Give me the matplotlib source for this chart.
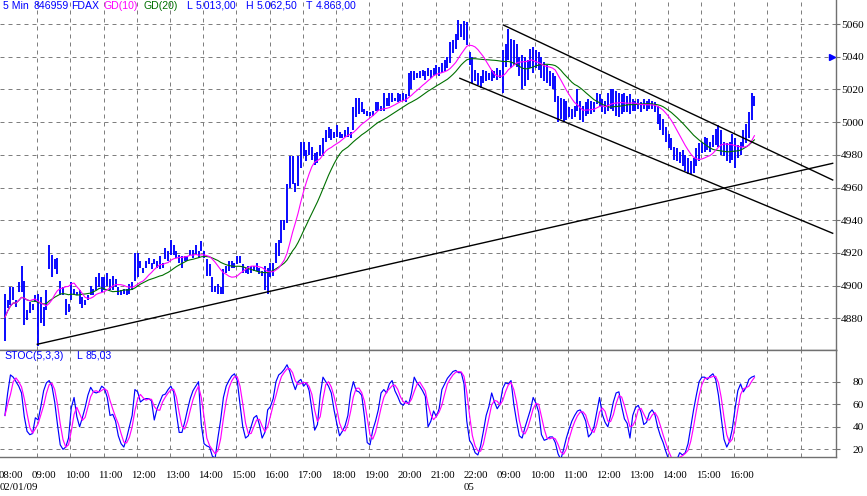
import numpy as np
import pandas as pd
import matplotlib
matplotlib.use('Agg')
import matplotlib.pyplot as plt
from matplotlib.transforms import ScaledTranslation, blended_transform_factory

# ---------------- data (5-min bars, FDAX) ----------------
day1_high = [
    4895,4891,4899,4899,4891,4902,4912,4903,4885,4890,4889,4894,   # 08
    4895,4893,4887,4897,4925,4919,4916,4917,4903,4899,4892,4889,   # 09
    4902,4898,4896,4897,4893,4891,4894,4900,4898,4905,4908,4905,   # 10
    4905,4908,4904,4906,4904,4899,4897,4898,4898,4901,4902,4920,   # 11
    4920,4915,4911,4915,4917,4914,4916,4915,4918,4914,4923,4921,   # 12
    4928,4925,4921,4919,4918,4918,4918,4922,4922,4925,4921,4927,   # 13
    4921,4916,4913,4905,4900,4901,4899,4910,4912,4915,4915,4914,   # 14
    4918,4918,4913,4911,4912,4912,4912,4914,4911,4909,4912,4911,   # 15
    4914,4914,4926,4928,4940,4940,4962,4979,4979,4963,4979,4988,   # 16
    4988,4983,4988,4985,4981,4982,4986,4990,4995,4997,4996,4994,   # 17
    4998,4994,4993,4995,4997,4994,5009,5015,5015,5012,5008,5007,   # 18
    5006,5007,5012,5012,5010,5018,5015,5018,5018,5015,5018,5017,   # 19
    5018,5017,5030,5031,5031,5030,5031,5032,5031,5033,5032,5033,   # 20
    5035,5034,5036,5038,5040,5049,5050,5054,5062.5,5060,5062,5061, # 21
]
day1_low = [
    4866,4886,4888,4891,4887,4896,4896,4876,4879,4883,4885,4890,
    4863,4877,4875,4885,4910,4905,4910,4907,4894,4894,4882,4884,
    4891,4894,4894,4889,4886,4888,4891,4894,4894,4897,4899,4896,
    4897,4900,4897,4897,4899,4894,4894,4895,4894,4895,4897,4903,
    4905,4911,4908,4911,4913,4910,4913,4911,4910,4911,4916,4915,
    4919,4919,4917,4914,4911,4915,4915,4919,4917,4919,4917,4921,
    4917,4906,4906,4896,4896,4895,4895,4895,4908,4909,4911,4911,
    4913,4914,4908,4908,4907,4908,4909,4909,4907,4906,4897,4895,
    4905,4906,4914,4918,4926,4934,4938,4960,4962,4957,4961,4972,
    4979,4976,4980,4977,4974,4975,4979,4979,4988,4990,4989,4990,
    4991,4990,4990,4991,4991,4990,4995,5003,5005,5006,5005,5004,
    5004,5004,5007,5007,5007,5007,5010,5010,5012,5013,5012,5013,
    5013,5012,5016,5020,5026,5027,5027,5028,5026,5028,5027,5028,
    5029,5028,5030,5031,5033,5036,5042,5045,5050,5052,5050,5047,
]
day2_high = [
    5043,5040,5032,5030,5028,5032,5031,5030,5032,5031,5033,5032,   # 08
    5044,5048,5057,5051,5050,5048,5040,5041,5040,5038,5045,5046,   # 09
    5044,5043,5040,5037,5035,5031,5030,5028,5016,5015,5014,5013,   # 10
    5009,5008,5010,5020,5013,5010,5012,5014,5013,5012,5018,5017,   # 11
    5014,5013,5018,5020,5020,5019,5018,5017,5018,5016,5017,5014,   # 12
    5013,5014,5012,5014,5013,5014,5013,5012,5010,5005,5002,4997,   # 13
    4993,4990,4985,4984,4982,4983,4980,4978,4976,4978,4984,4987,   # 14
    4988,4991,4990,4988,4992,4996,4998,4995,4988,4987,4988,4993,   # 15
    4990,4986,4988,4995,4999,5006,5018,5016,                       # 16
]
day2_low = [
    5035,5024,5025,5023,5021,5024,5025,5026,5025,5027,5026,5027,
    5018,5034,5038,5033,5035,5034,5028,5020,5022,5026,5033,5030,
    5033,5032,5027,5025,5024,5022,5020,5012,5000,5002,5000,5001,
    5003,5002,5003,5007,5001,5000,5004,5005,5005,5006,5011,5010,
    5006,5005,5007,5008,5007,5004,5003,5005,5006,5006,5005,5007,
    5007,5008,5006,5008,5007,5008,5008,5006,4999,4995,4992,4988,
    4984,4983,4977,4976,4975,4973,4970,4968,4968,4969,4973,4976,
    4981,4982,4983,4982,4985,4986,4985,4980,4979,4976,4975,4977,
    4972,4978,4980,4985,4987,4990,5001,5010,
]
stoch_k = [
    50,70,86,84,80,76,70,49,36,33,34,48,
    46,58,72,79,81,76,62,42,24,20,22,30,
    57,66,49,40,48,57,68,75,71,70,71,76,
    74,66,50,51,45,32,25,22,30,40,50,73,
    71,62,64,65,65,63,46,56,62,68,69,73,
    76,71,52,35,35,44,55,65,72,76,80,42,
    25,23,22,14,12,30,46,66,76,81,85,87,
    81,60,40,30,32,40,48,50,42,30,35,55,
    58,65,80,86,88,91,95,89,80,73,80,82,
    76,79,72,55,37,42,68,84,80,76,70,55,
    43,32,36,41,50,70,80,72,71,68,49,26,
    24,37,45,55,70,73,70,78,81,72,67,61,
    59,63,60,70,84,79,76,72,67,40,45,54,
    49,56,73,78,83,86,89,90,88,88,78,45,
    28,24,17,15,23,36,50,58,70,62,56,60,
    74,79,78,81,60,45,32,30,39,47,55,66,
    61,53,33,28,29,31,31,26,16,11,20,30,
    38,45,50,54,55,51,45,31,34,40,53,66,
    51,44,40,50,62,70,71,58,47,43,30,50,
    57,59,53,42,44,52,55,51,40,32,26,18,
    11,9,11,11,17,15,17,25,40,55,68,80,
    84,84,82,85,87,82,68,48,29,22,27,38,
    56,72,78,71,75,82,84,85,
]
hour_labels = ["08:00","09:00","10:00","11:00","12:00","13:00","14:00","15:00",
               "16:00","17:00","18:00","19:00","20:00","21:00","22:00",
               "09:00","10:00","11:00","12:00","13:00","14:00","15:00","16:00"]
price_levels = [4880,4900,4920,4940,4960,4980,5000,5020,5040,5060]
stoch_levels = [20,40,60,80]
# trend lines: (bar index, price) -> (bar index, price)
trend_lines = [((12.0, 4864.1), (299.6, 4974.8)),
               ((180.5, 5059.4), (299.6, 4964.6)),
               ((164.8, 5026.8), (299.6, 4932.0))]
marker_price = 5040

# ---------------- derived ----------------
highs = np.array(day1_high + day2_high, dtype=float)
lows = np.array(day1_low + day2_low, dtype=float)
n = len(highs)
xb = np.arange(n) + 0.3
mid = (highs + lows) / 2
gd10 = pd.Series(mid).rolling(10, min_periods=1).mean()
gd20 = pd.Series(mid).rolling(20, min_periods=1).mean()
k = pd.Series(stoch_k, dtype=float)
d = k.rolling(3, min_periods=1).mean()

BLUE = '#0000ff'
MAG = '#ff00ff'
GRN = '#007000'
GRID = '#7f7f7f'
dash = (0, (4, 4))

W, H = 867, 496
fig = plt.figure(figsize=(W/100, H/100), dpi=100)
ax1 = fig.add_axes([0, (H-350)/H, 836/W, 350/H])
ax2 = fig.add_axes([0, (H-457)/H, 836/W, 107/H])

xlim = (-1.48, 300.8)
for ax in (ax1, ax2):
    ax.set_xlim(*xlim)
    for s in range(12, 289, 12):
        ax.axvline(s, color=GRID, lw=0.72, ls=dash, zorder=0)
    ax.spines['left'].set_visible(False)
    for sp in ('right', 'bottom', 'top'):
        ax.spines[sp].set_color('#707070')
        ax.spines[sp].set_linewidth(1.0)
    ax.yaxis.tick_right()
    ax.tick_params(axis='y', direction='out', length=3, color='#707070', pad=17,
                   labelsize=8.2, labelfontfamily='Liberation Serif')
ax1.spines['top'].set_visible(False)

ax1.set_ylim(4860.6, 5074.7)
ax2.set_ylim(13.2, 108.1)
for p in price_levels:
    ax1.axhline(p, color=GRID, lw=0.72, ls=dash, zorder=0)
for p in stoch_levels:
    ax2.axhline(p, color=GRID, lw=0.72, ls=dash, zorder=0)
ax1.set_yticks(price_levels)
ax1.set_yticklabels([str(p) for p in price_levels])
ax2.set_yticks(stoch_levels)
ax2.set_yticklabels([str(p) for p in stoch_levels])
for ax in (ax1, ax2):
    for lab in ax.get_yticklabels():
        lab.set_ha('right')

# price bars
ax1.vlines(xb, lows, highs, color=BLUE, lw=1.35, zorder=3)
ax1.plot(xb, gd20, color=GRN, lw=0.8, zorder=4)
ax1.plot(xb, gd10, color=MAG, lw=0.8, zorder=4)
for (x0, y0), (x1, y1) in trend_lines:
    ax1.plot([x0, x1], [y0, y1], color='black', lw=1.0, zorder=5)
tr = blended_transform_factory(ax1.transAxes, ax1.transData)
ax1.plot([0.9955], [marker_price], marker='>', color=BLUE, ms=4, transform=tr,
         clip_on=False, zorder=6)

# stochastic
ax2.plot(xb, k, color=BLUE, lw=0.85, zorder=3)
ax2.plot(xb, d, color=MAG, lw=0.85, zorder=4)

ax1.set_xticks([])
ax2.set_xticks([12*i for i in range(len(hour_labels))])
ax2.set_xticklabels(hour_labels, fontsize=7.8, family='Liberation Serif')
ax2.tick_params(axis='x', length=0, pad=10)
off = ScaledTranslation(7/100, 0, fig.dpi_scale_trans)
for lab in ax2.get_xticklabels():
    lab.set_transform(lab.get_transform() + off)

# header texts
def ftext(x, y, s, color=BLUE, family='Liberation Sans', size=7.6):
    fig.text(x/W, 1 - y/H, s, color=color, fontsize=size, family=family,
             ha='left', va='center')

ftext(3, 6, '5 Min')
ftext(34, 6, '846959')
ftext(71, 6, 'FDAX')
ftext(104, 6, 'GD(10)', color=MAG)
ftext(143, 6, 'GD(20)', color=GRN)
ftext(186, 6, 'L')
ftext(196, 6, '5.013,00')
ftext(245, 6, 'H')
ftext(257, 6, '5.062,50')
ftext(306, 6, 'T')
ftext(316, 6, '4.863,00')
ftext(4, 356, 'STOC(5,3,3)')
ftext(76, 356, 'L')
ftext(86, 356, '85,03')
ftext(0, 488, '02/01/09', color='black', family='Liberation Serif', size=7.8)
ftext(464, 488, '05', color='black', family='Liberation Serif', size=7.8)

fig.savefig('out.png', dpi=100, facecolor='white')
